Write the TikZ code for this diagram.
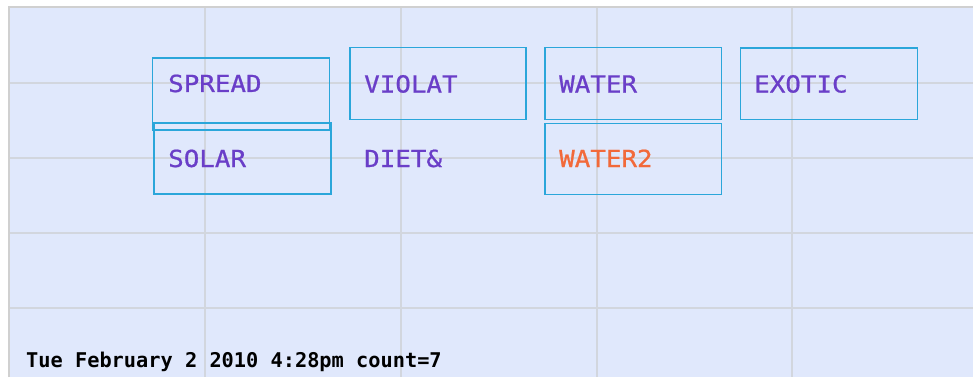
\documentclass[tikz,border=0pt]{standalone}
\usepackage{fontspec}
\newfontfamily\labfont[FakeStretch=1.1,FakeBold=0.8]{DejaVu Sans Mono}
\newfontfamily\datefont{DejaVu Sans Mono Bold}
\definecolor{panelbg}{HTML}{E0E8FC}
\definecolor{gridc}{HTML}{D2D6DE}
\definecolor{framec}{HTML}{D0D0D0}
\definecolor{boxc}{HTML}{2BA6DA}
\definecolor{labc}{HTML}{6A3EC8}
\definecolor{hotc}{HTML}{F2693A}
\tikzset{
  x=1pt, y=-1pt,
  gridline/.style={draw=gridc, line width=1.5pt},
  boxnode/.style={draw=boxc, line width=1.5pt, inner sep=0pt, outer sep=0pt},
  labnode/.style={anchor=base west, inner sep=0pt, text=labc, font=\labfont\fontsize{23.5}{24}\selectfont},
  datenode/.style={anchor=base west, inner sep=0pt, text=black, font=\datefont\fontsize{20.3}{21}\selectfont}
}
\begin{document}
\begin{tikzpicture}
\useasboundingbox (0,0) rectangle (973,377);
\fill[white] (0,0) rectangle (973,377);
\fill[panelbg] (9,7) rectangle (973,377);
\draw[framec, line width=1.5pt] (9,377) -- (9,7) -- (973,7);
\foreach \gx in {205,401,597,792} \draw[gridline] (\gx,8) -- (\gx,377);
\foreach \gy in {83,158,233,308} \draw[gridline] (10,\gy) -- (973,\gy);
% boxes
\node[boxnode, minimum width=177pt, minimum height=72pt] (bspread) at (241,94) {};
\node[boxnode, minimum width=177pt, minimum height=71pt] (bsolar) at (242.5,158.7) {};
\node[boxnode, minimum width=176pt, minimum height=71.5pt] (bviolat) at (438,83.5) {};
\node[boxnode, minimum width=176.5pt, minimum height=71.5pt] (bwater) at (633.3,83.5) {};
\node[boxnode, minimum width=176.5pt, minimum height=71pt] (bwater2) at (633.3,158.8) {};
\node[boxnode, minimum width=177pt, minimum height=71.5pt] (bexotic) at (829.2,83.7) {};
% labels
\node[labnode] (lspread) at (168,92) {SPREAD};
\node[labnode] (lsolar) at (168,167) {SOLAR};
\node[labnode] (lviolat) at (364,92.5) {VIOLAT};
\node[labnode] (ldiet) at (364,167) {DIET\&};
\node[labnode] (lwater) at (559,92.5) {WATER};
\node[labnode, text=hotc] (lwater2) at (559,167) {WATER2};
\node[labnode] (lexotic) at (754,92.5) {EXOTIC};
\node[datenode] (date) at (26,367) {Tue February 2 2010 4:28pm count=7};
\end{tikzpicture}
\end{document}
